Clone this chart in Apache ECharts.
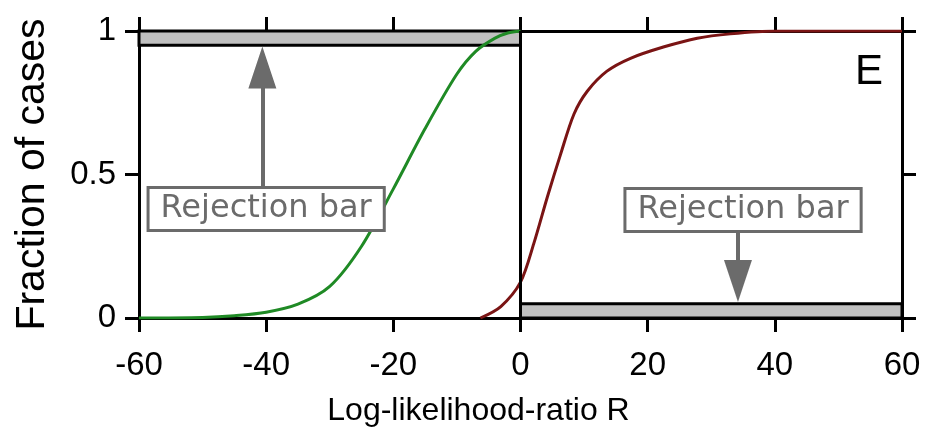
<!DOCTYPE html>
<html>
<head>
<meta charset="utf-8">
<script src="https://cdn.jsdelivr.net/npm/echarts@6/dist/echarts.min.js"></script>
<style>html,body{margin:0;padding:0;background:#fff}#c{width:928px;height:446px}</style>
</head>
<body>
<div id="c"></div>
<script>
// Data
const xTicks = [-60, -40, -20, 0, 20, 40, 60];
const yTicks = [0, 0.5, 1];
const greenX = [-60, -50, -45, -40, -35, -30, -25, -20, -15, -10, -7, -4, -2, 0];
const greenY = [0, 0.002, 0.008, 0.02, 0.048, 0.11, 0.25, 0.45, 0.66, 0.85, 0.93, 0.975, 0.993, 1];
const redX = [-6.3, -3.1, 0, 2.1, 4.2, 6.3, 8.4, 10.5, 13.6, 17.3, 22.6, 27.8, 33, 40, 60];
const redY = [0, 0.04, 0.125, 0.26, 0.42, 0.57, 0.71, 0.79, 0.86, 0.905, 0.945, 0.975, 0.99, 1, 1];
const rejectBarTop = { x: [-60, 0], y: [0.95, 1] };
const rejectBarBottom = { x: [0, 60], y: [0, 0.05] };
const boxLabel = 'Rejection bar';
const leftBox = [-40, 0.38];
const rightBox = [35, 0.376];
const leftArrow = [[-40.6, 0.456], [-40.6, 0.873]];
const rightArrow = [[34.2, 0.30], [34.2, 0.129]];
const panelLabel = 'E';
const panelPos = [54.8, 0.857];

const chart = echarts.init(document.getElementById('c'));
const axisFont = 'Liberation Sans, Arial, sans-serif';
const lineStyle = { color: '#000', width: 3 };
const common = {
  min: -60, max: 60, interval: 20, type: 'value',
  axisLine: { show: true, onZero: false, lineStyle },
  axisTick: { show: true, inside: false, length: 14, lineStyle },
  splitLine: { show: false }
};
const zip = (a, b) => a.map((v, i) => [v, b[i]]);

chart.setOption({
  animation: false,
  grid: { left: 139, right: 26, top: 31, bottom: 128 },
  xAxis: [
    Object.assign({}, common, {
      position: 'bottom',
      axisLabel: { color: '#000', fontSize: 33, fontFamily: axisFont, margin: 31 },
      name: 'Log-likelihood-ratio R', nameLocation: 'middle', nameGap: 77,
      nameTextStyle: { color: '#000', fontSize: 32, fontFamily: axisFont, padding: [0, 84, 0, 0] }
    }),
    Object.assign({}, common, { position: 'top', axisLabel: { show: false } })
  ],
  yAxis: [
    {
      type: 'value', min: 0, max: 1, interval: 0.5, position: 'left',
      axisLine: { show: true, onZero: false, lineStyle },
      axisTick: { show: true, inside: false, length: 14, lineStyle },
      splitLine: { show: false },
      axisLabel: { color: '#000', fontSize: 33, fontFamily: axisFont, margin: 23 },
      name: 'Fraction of cases', nameLocation: 'middle', nameGap: 86, nameRotate: 90,
      nameTextStyle: { color: '#000', fontSize: 41, fontFamily: axisFont }
    },
    {
      type: 'value', min: 0, max: 1, interval: 0.5, position: 'right',
      axisLine: { show: true, onZero: false, lineStyle },
      axisTick: { show: true, inside: false, length: 14, lineStyle },
      splitLine: { show: false },
      axisLabel: { show: false }
    }
  ],
  series: [
    {
      type: 'line', data: [], silent: true, z: 1,
      markArea: {
        silent: true,
        itemStyle: { color: '#c0c0c0', borderColor: '#000', borderWidth: 3 },
        data: [
          [{ coord: [rejectBarTop.x[0], rejectBarTop.y[1]] }, { coord: [rejectBarTop.x[1], rejectBarTop.y[0]] }],
          [{ coord: [rejectBarBottom.x[0], rejectBarBottom.y[1]] }, { coord: [rejectBarBottom.x[1], rejectBarBottom.y[0]] }]
        ]
      },
      markLine: {
        silent: true, symbol: ['none', 'none'], label: { show: false },
        lineStyle: { color: '#000', width: 3, type: 'solid' },
        data: [[{ coord: [0, 0] }, { coord: [0, 1] }]]
      }
    },
    {
      type: 'line', data: zip(greenX, greenY), smooth: 0.3, showSymbol: false, z: 3,
      lineStyle: { color: '#1f8a25', width: 3 }
    },
    {
      type: 'line', data: zip(redX, redY), smooth: 0.3, showSymbol: false, z: 3,
      lineStyle: { color: '#7a1414', width: 3 }
    },
    {
      type: 'line', data: [], silent: true, z: 4,
      markLine: {
        silent: true, symbol: ['none', 'triangle'], symbolSize: [28, 42],
        label: { show: false },
        lineStyle: { color: '#6b6b6b', width: 4, type: 'solid' },
        itemStyle: { color: '#6b6b6b' },
        data: [
          [{ coord: leftArrow[0] }, { coord: leftArrow[1] }],
          [{ coord: rightArrow[0] }, { coord: rightArrow[1] }]
        ]
      },
      markPoint: {
        silent: true, symbol: 'rect', symbolSize: 1,
        itemStyle: { color: 'rgba(0,0,0,0)' },
        label: {
          show: true, position: 'inside', formatter: boxLabel,
          color: '#6b6b6b', fontSize: 32, fontFamily: 'DejaVu Sans, Verdana, sans-serif',
          backgroundColor: '#fff', borderColor: '#6b6b6b', borderWidth: 3,
          padding: [4, 11, 4, 11]
        },
        data: [{ coord: leftBox }, { coord: rightBox }]
      }
    }
  ]
});
const ePos = chart.convertToPixel({ gridIndex: 0 }, panelPos);
chart.setOption({
  graphic: [{
    type: 'text', x: ePos[0], y: ePos[1],
    style: { text: panelLabel, fill: '#000', font: '42px Liberation Sans, sans-serif', textAlign: 'center', textVerticalAlign: 'middle' }
  }]
});
</script>
</body>
</html>
